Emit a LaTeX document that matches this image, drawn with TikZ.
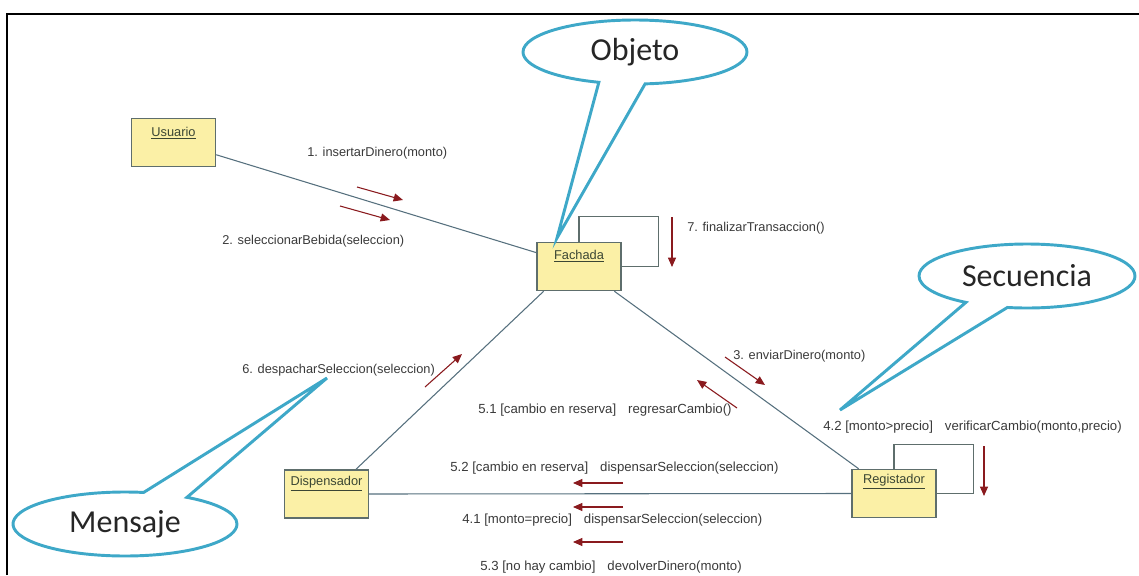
\documentclass[tikz,border=0pt]{standalone}
\usepackage{fontspec}
\setmainfont{Liberation Sans}
\newfontfamily\callfont{Carlito}
\usetikzlibrary{arrows.meta,shapes.callouts,calc}

\definecolor{boxfill}{HTML}{FBF0A6}
\definecolor{boxline}{HTML}{5E6E6C}
\definecolor{linkline}{HTML}{56707E}
\definecolor{msgred}{HTML}{8A1A1E}
\definecolor{txt}{HTML}{3A3A3A}
\definecolor{objtxt}{HTML}{3B4634}
\definecolor{callblue}{HTML}{3EA8C8}

% gap between a guard and its operation
\newcommand{\guardgap}{\hspace{9pt}}

\tikzset{
  obj/.style={draw=boxline, fill=boxfill, line width=1.1pt,
    minimum width=63pt, minimum height=36pt, inner sep=0pt},
  objname/.style={font=\fontsize{9.6}{11}\selectfont, text=objtxt, inner sep=0pt},
  link/.style={draw=linkline, line width=0.8pt},
  loopline/.style={draw=boxline, line width=0.9pt},
  msg/.style={draw=msgred, line width=0.8pt, -{Triangle[length=7pt,width=6pt]}},
  msglbl/.style={font=\fontsize{9.6}{11}\selectfont, text=txt, anchor=west, inner sep=0pt},
  guardlbl/.style={msglbl, font=\fontsize{9.9}{11}\selectfont},
  note/.style={ellipse callout, draw=callblue, line width=2.2pt, fill=white,
    minimum width=168pt, minimum height=48pt, inner sep=0pt,
    callout pointer arc=24,
    font=\callfont\fontsize{24}{28}\selectfont, text=black!85},
}

\begin{document}
\begin{tikzpicture}[x=0.75pt, y=-0.75pt]
\useasboundingbox (0,0) rectangle (1139,575);

% frame
\draw[line width=2.2pt] (7,575) -- (7,14) -- (1139,14);

% objects
\node[obj] (usuario) at (173.5,142.5) {};
\node[obj] (fachada) at (579,266.5) {};
\node[obj] (dispensador) at (326.5,494) {};
\node[obj] (registador) at (894,493.5) {};

\node[objname] (usuarioLbl) at ($(usuario.north)+(0,15)$) {\underline{Usuario}};
\node[objname] (fachadaLbl) at ($(fachada.north)+(0,14)$) {\underline{Fachada}};
\node[objname] (dispensadorLbl) at ($(dispensador.north)+(0,14)$) {\underline{Dispensador}};
\node[objname] (registadorLbl) at ($(registador.north)+(0,13)$) {\underline{Registador}};

% links
\draw[link] (usuario.-16) -- (fachada.162);
\draw[link] (fachada.215) -- (dispensador.40);
\draw[link] (fachada.-35) -- (registador.145);
\draw[link] (dispensador.east) -- (registador.west);

% self links
\draw[loopline] (fachada.north) -- ++(0,-25) -| ($(fachada.east)+(37,0)$) -- (fachada.east);
\draw[loopline] (registador.north) -- ++(0,-24) -| ($(registador.east)+(37,0)$) -- (registador.east);

% message arrows
\coordinate (m1a) at (357,187);  \coordinate (m1b) at (403,200);
\coordinate (m2a) at (340,206);  \coordinate (m2b) at (390,220);
\coordinate (m7a) at (672,217);  \coordinate (m7b) at (672,267);
\coordinate (m6a) at (425,387);  \coordinate (m6b) at (462,354);
\coordinate (m3a) at (725,357);  \coordinate (m3b) at (765,385);
\coordinate (m51a) at (737,408); \coordinate (m51b) at (697,380);
\coordinate (m42a) at (984,446); \coordinate (m42b) at (984,496);
\coordinate (m52a) at (623,483); \coordinate (m52b) at (573,483);
\coordinate (m41a) at (623,507); \coordinate (m41b) at (573,507);
\coordinate (m53a) at (623,542); \coordinate (m53b) at (573,542);

\foreach \m in {m1,m2,m7,m6,m3,m51,m42,m52,m41,m53}
  \draw[msg] (\m a) -- (\m b);

% message labels
\node[msglbl] (l1) at (307,153) {1. insertarDinero(monto)};
\node[msglbl] (l2) at (222,241) {2. seleccionarBebida(seleccion)};
\node[msglbl] (l7) at (687,228) {7. finalizarTransaccion()};
\node[msglbl] (l6) at (242,370) {6. despacharSeleccion(seleccion)};
\node[msglbl] (l3) at (733,356) {3. enviarDinero(monto)};
\node[guardlbl] (l51) at (478,410) {5.1 [cambio en reserva]\guardgap regresarCambio()};
\node[guardlbl] (l42) at (823,427) {4.2 [monto>precio]\guardgap verificarCambio(monto,precio)};
\node[guardlbl] (l52) at (450,468) {5.2 [cambio en reserva]\guardgap dispensarSeleccion(seleccion)};
\node[guardlbl] (l41) at (462,520) {4.1 [monto=precio]\guardgap dispensarSeleccion(seleccion)};
\node[guardlbl] (l53) at (480,567) {5.3 [no hay cambio]\guardgap devolverDinero(monto)};

% callouts
\coordinate (tipObjeto) at (557,238);
\coordinate (tipSecuencia) at (840,410);
\coordinate (tipMensaje) at (327,378);
\node[note, callout absolute pointer={(tipObjeto)}] (objeto) at (635,52) {Objeto};
\node[note, minimum width=162pt, callout absolute pointer={(tipSecuencia)}] (secuencia) at (1027,276) {Secuencia};
\node[note, callout absolute pointer={(tipMensaje)}] (mensaje) at (125,524) {Mensaje};
\end{tikzpicture}
\end{document}
